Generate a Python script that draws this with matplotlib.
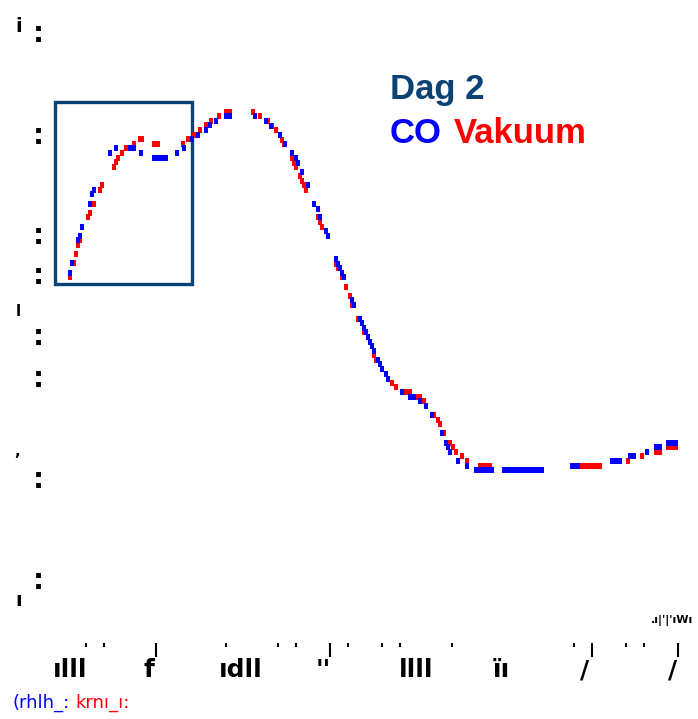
import numpy as np
import matplotlib.pyplot as plt
from matplotlib.patches import Rectangle

# CO serie (blå)
co_x = [5.0, 5.5, 7.0, 7.5, 8.0, 10.0, 10.5, 11.0, 15.0, 16.5, 20.0, 21.0, 22.75,
        26.0, 26.5, 27.0, 27.5, 28.0, 28.5, 29.0, 31.75, 33.5, 35.5, 37.0, 39.0,
        40.0, 41.5, 44.0, 45.0, 51.25, 54.0, 55.25, 57.5, 58.75, 60.5, 61.5, 62.0,
        63.0, 64.5, 66.0, 67.0, 67.5, 69.0, 69.5, 71.5, 72.0, 72.5, 73.0, 73.5,
        75.5, 76.0, 77.5, 78.0, 78.5, 79.0, 79.5, 80.0, 80.5, 81.0, 82.0, 82.5,
        83.0, 84.0, 84.5, 88.0, 90.0, 91.0, 92.5, 94.0, 95.5, 98.0, 99.0, 99.5,
        100.0, 102.0, 104.25,
        106.5, 107.0, 107.5, 108.0, 108.5, 109.0, 109.5, 110.0, 110.5,
        113.5, 114.0, 114.5, 115.0, 115.5, 116.0, 116.5, 117.0, 117.5, 118.0,
        118.5, 119.0, 119.5, 120.0, 120.5, 121.0, 121.5, 122.0, 122.5, 123.0,
        130.5, 131.0, 131.5, 132.0,
        140.5, 141.0, 141.5, 142.0, 142.5, 145.0, 146.0, 149.25, 151.5, 152.5,
        154.5, 155.0, 155.5, 156.0, 156.5]
co_y = [37.0, 38.0, 40.3, 40.7, 41.6, 43.9, 44.9, 45.3, 49.0, 49.5, 49.5, 49.5, 49.0,
        48.5, 48.5, 48.5, 48.5, 48.5, 48.5, 48.5, 49.0, 49.5, 50.4, 50.8, 51.3,
        51.8, 52.2, 52.7, 52.7, 52.7, 52.2, 51.7, 50.8, 49.9, 49.0, 48.5, 48.0,
        47.1, 45.8, 43.9, 43.4, 42.6, 41.2, 40.7, 38.4, 37.9, 37.5, 37.0, 36.6,
        34.3, 33.8, 32.4, 32.0, 31.5, 31.1, 30.6, 30.1, 29.7, 29.2, 28.3, 27.9,
        27.4, 26.9, 26.4, 25.1, 24.6, 24.6, 24.2, 23.7, 22.8, 21.0, 20.0, 19.6,
        19.1, 18.2, 17.7,
        17.3, 17.3, 17.3, 17.3, 17.3, 17.3, 17.3, 17.3, 17.3,
        17.3, 17.3, 17.3, 17.3, 17.3, 17.3, 17.3, 17.3, 17.3, 17.3,
        17.3, 17.3, 17.3, 17.3, 17.3, 17.3, 17.3, 17.3, 17.3, 17.3,
        17.7, 17.7, 17.7, 17.7,
        18.2, 18.2, 18.2, 18.2, 18.2, 18.7, 18.7, 19.1, 19.6, 19.6,
        20.0, 20.0, 20.0, 20.0, 20.0]

# Vakuum serie (rød)
vak_x = [5.0, 6.0, 6.5, 7.0, 7.5, 9.5, 10.0, 11.0, 12.5, 13.0, 16.0, 16.5, 17.0,
         18.0, 19.0, 21.0, 22.5, 23.0, 26.0, 26.5, 27.0, 33.25, 34.5, 36.0, 37.5,
         39.0, 40.25, 42.25, 44.0, 45.0, 50.75, 52.5, 54.5, 55.5, 56.5, 58.0, 58.5,
         60.5, 61.0, 61.5, 62.5, 63.0, 63.5, 64.0, 67.0, 67.5, 68.0, 71.5, 72.0,
         73.0, 74.0, 75.0, 75.5, 77.0, 78.5, 81.0, 81.5, 85.5, 86.5, 89.0, 89.5,
         90.0, 92.0, 92.5, 93.5, 96.0, 97.0, 97.5, 98.5, 100.0, 100.75, 101.5,
         103.0, 104.25,
         107.5, 108.0, 108.5, 109.0, 109.5, 110.0,
         132.5, 133.0, 133.5, 134.0, 134.5, 135.0, 135.5, 136.0, 136.5, 137.0, 137.5,
         144.5, 148.0, 151.5, 152.5, 154.5, 155.0, 155.5, 156.0, 156.5]
vak_y = [36.6, 38.0, 38.9, 39.8, 40.3, 42.6, 43.0, 43.9, 45.3, 45.8, 47.6, 48.1, 48.5,
         49.0, 49.5, 49.9, 50.4, 50.4, 49.9, 49.9, 49.9, 49.9, 50.4, 50.8, 51.3,
         51.8, 52.2, 52.7, 53.1, 53.1, 53.1, 52.7, 52.2, 51.7, 51.3, 50.3, 49.9,
         48.5, 48.0, 47.6, 46.7, 46.2, 45.8, 45.3, 42.6, 42.1, 41.6, 37.9, 37.5,
         36.6, 35.6, 34.7, 33.8, 32.4, 31.1, 28.8, 28.3, 26.0, 25.6, 25.1, 25.1,
         25.1, 24.6, 24.6, 24.2, 22.8, 22.3, 21.9, 21.0, 20.0, 19.6, 19.1,
         18.7, 18.2,
         17.7, 17.7, 17.7, 17.7, 17.7, 17.7,
         17.7, 17.7, 17.7, 17.7, 17.7, 17.7, 17.7, 17.7, 17.7, 17.7, 17.7,
         18.2, 18.7, 19.1, 19.1, 19.6, 19.6, 19.6, 19.6, 19.6]

# akser (tick-tekster er utydelige i originalen)
x_labels = ["ılll", "f", "ıdll", "''", "llll", "ïı", "/", "/"]
x_label_pos = [5, 24.75, 47.75, 68.25, 91.5, 112.75, 133.75, 155.75]
x_major = [26.5, 70, 135.5, 157]
x_minor = [9, 13.5, 44, 57, 61.5, 74.5, 83, 87.5, 100.5, 131, 144, 148.5]
y_ticks = [61.2, 51.0, 41.0, 37.0, 30.9, 26.7, 16.6, 6.5]

W, H = 698, 719
fig = plt.figure(figsize=(W / 100, H / 100), dpi=100)
ax = fig.add_axes([50 / W, 76 / H, 640 / W, 623 / H])
ax.set_xlim(0, 160)
ax.set_ylim(0, 62.3)
for s in ax.spines.values():
    s.set_visible(False)

bar = [(-0.24, -0.5), (0.24, -0.5), (0.24, 0.5), (-0.24, 0.5), (-0.24, -0.5)]
ax.plot(vak_x, vak_y, ls='none', marker=bar, ms=4.6, mew=0, color='#ff0000')
ax.plot(co_x, co_y, ls='none', marker=bar, ms=4.6, mew=0, color='#0000ff')

# ramme rundt oppstart
ax.add_patch(Rectangle((1.25, 35.9), 34.15, 18.23, fill=False,
                       edgecolor='#0b4274', linewidth=2.4))

tf = dict(fontsize=25, fontweight='bold', family='Liberation Sans', va='baseline')
ax.text(85, 54.4, "Dag 2", color='#0b4274', **tf)
ax.text(85, 50.0, "CO", color='#0000ff', **tf)
ax.text(101, 50.0, "Vakuum", color='#ff0000', **tf)

# x-akse
ax.set_xticks(x_label_pos)
ax.set_xticklabels(x_labels, fontsize=18, fontweight='bold', family='DejaVu Sans')
ax.tick_params(axis='x', which='major', length=0, pad=11)
ax.set_xticks(x_minor, minor=True)
ax.tick_params(axis='x', which='minor', length=3, width=1.5, color='black')
sec = ax.secondary_xaxis('bottom')
sec.set_xticks(x_major)
sec.set_xticklabels([])
sec.tick_params(length=10, width=1.5, color='black')
sec.spines['bottom'].set_visible(False)

# y-akse
ax.set_yticks(y_ticks)
ax.set_yticklabels([":"] * len(y_ticks), fontsize=20, fontweight='bold')
ax.tick_params(axis='y', length=0, pad=4)

fig.text(19 / W, 1 - 26 / H, "i", fontsize=14, fontweight='bold', ha='center', va='center')
fig.text(18 / W, 1 - 311 / H, "l", fontsize=11, fontweight='bold', ha='center', va='center')
fig.text(17 / W, 1 - 452 / H, ",", fontsize=11, fontweight='bold', ha='center', va='center')
fig.text(19 / W, 1 - 600 / H, "ı", fontsize=14, fontweight='bold', ha='center', va='center')
fig.text(651 / W, 1 - 620 / H, ".ı|'|'ıWı", fontsize=8, fontweight='bold', va='center')

fig.text(13 / W, 1 - 703 / H, "(rhlh_:", color='#0000ff', fontsize=13, va='center')
fig.text(75 / W, 1 - 703 / H, "krnı_ı:", color='#ff0000', fontsize=13, va='center')

fig.savefig("out.png", dpi=100, facecolor='white')
